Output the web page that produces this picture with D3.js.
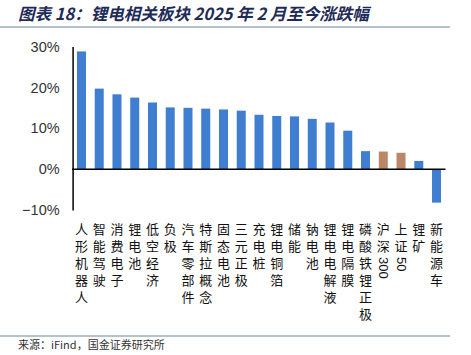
<!DOCTYPE html>
<html><head><meta charset="utf-8">
<script src="https://cdn.jsdelivr.net/npm/d3@7/dist/d3.min.js"></script>
<style>
html,body{margin:0;padding:0;background:#fff;}
svg{display:block;}
</style></head>
<body>
<svg id="c" width="471" height="355"></svg>
<script>
const categories = ["人形机器人","智能驾驶","消费电子","锂电池","低空经济","负极","汽车零部件","特斯拉概念","固态电池","三元正极","充电桩","锂电铜箔","储能","钠电池","锂电电解液","锂电隔膜","磷酸铁锂正极","沪深300","上证50","锂矿","新能源车"];
const values = [28.8,19.7,18.3,17.5,16.3,15.1,15.0,14.8,14.6,14.3,13.3,13.0,12.9,12.3,11.4,9.4,4.4,4.3,4.0,2.0,-8.2];
const indexCats = ["沪深300","上证50"];
const yTicks = [-10,0,10,20,30];
const title = "图表 18：锂电相关板块 2025 年 2 月至今涨跌幅";
const source = "来源：iFind，国金证券研究所";

const svg = d3.select("#c");
const cjk = '"Noto Sans CJK SC", sans-serif';

// rules
svg.append("line").attr("x1",0).attr("x2",450).attr("y1",27).attr("y2",27)
  .attr("stroke","#9AAFBE").attr("stroke-width",1.5);
svg.append("line").attr("x1",0).attr("x2",450).attr("y1",336).attr("y2",336)
  .attr("stroke","#9AAFBE").attr("stroke-width",1.5);

svg.append("text").attr("x",18).attr("y",20).text(title)
  .attr("font-family",cjk).attr("font-size",16.5).attr("font-weight","bold")
  .attr("font-style","italic").attr("fill","#1E2B57");

svg.append("text").attr("x",18).attr("y",349).text(source)
  .attr("font-family",cjk).attr("font-size",11).attr("fill","#333");

const x = d3.scaleBand().domain(categories).range([72.6,445.4]).padding(0);
const y = d3.scaleLinear().domain([-10,30]).range([210,46.5]);

// bars
const bw = 9;
svg.append("g").selectAll("rect").data(categories).join("rect")
  .attr("x",(d)=>x(d)+x.bandwidth()/2-bw/2)
  .attr("width",bw)
  .attr("y",(d,i)=>y(Math.max(0,values[i])))
  .attr("height",(d,i)=>Math.abs(y(values[i])-y(0)))
  .attr("fill",d=>indexCats.includes(d)?"#BA8769":"#3F7ED0");

// y axis
const yAxis = d3.axisLeft(y).tickValues(yTicks).tickSize(0).tickPadding(13)
  .tickFormat(d=> (d<0?"\u2212"+Math.abs(d):d)+"%");
const ga = svg.append("g").attr("transform","translate(72.6,0)").call(yAxis);
ga.select(".domain").attr("stroke","#000").attr("stroke-width",1.5);
ga.selectAll("text").attr("font-family","'Liberation Sans', Arial, sans-serif")
  .attr("font-size",14.5).attr("fill","#333");

// zero line
svg.append("line").attr("x1",72).attr("x2",445.5).attr("y1",y(0)).attr("y2",y(0))
  .attr("stroke","#000").attr("stroke-width",1.5);

// vertical category labels
const labels = svg.append("g").selectAll("text").data(categories).join("text")
  .attr("x",d=>x(d)+x.bandwidth()/2)
  .attr("y",223)
  .style("writing-mode","vertical-rl")
  .style("text-orientation","mixed")
  .attr("font-family",cjk).attr("font-size",13).attr("fill","#111");
labels.each(function(d){
  const t = d3.select(this);
  (d.match(/[0-9A-Za-z]+|[^0-9A-Za-z]+/g)||[]).forEach(p=>{
    const isLatin = /^[0-9A-Za-z]+$/.test(p);
    t.append("tspan")
      .style("letter-spacing", isLatin ? "0px" : "4px")
      .attr("font-family", isLatin ? "'Liberation Sans', Arial, sans-serif" : null)
      .text(p);
  });
});
</script>
</body></html>
